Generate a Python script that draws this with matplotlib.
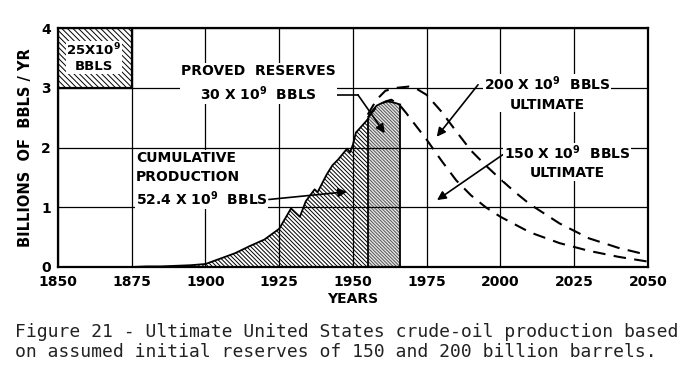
import matplotlib
matplotlib.use("Agg")
import matplotlib.pyplot as plt
from matplotlib.patches import Rectangle

# cumulative production, billions of bbls / yr
prod_years = [1875, 1880, 1885, 1890, 1895, 1900, 1905, 1910, 1915, 1920, 1925,
              1929, 1932, 1934, 1937, 1938, 1941, 1943, 1945, 1948, 1949, 1950,
              1951, 1953, 1955]
prod_vals = [0.0, 0.01, 0.01, 0.02, 0.03, 0.05, 0.14, 0.23, 0.35, 0.46, 0.64,
             0.98, 0.84, 1.10, 1.30, 1.25, 1.54, 1.70, 1.80, 1.98, 1.92, 2.05,
             2.25, 2.36, 2.47]

# proved reserves block
res_years = [1955, 1956, 1958, 1960, 1962, 1964, 1966]
res_vals = [2.47, 2.58, 2.70, 2.75, 2.77, 2.75, 2.72]

# projected curves
u200_years = [1955, 1958, 1961, 1965, 1969, 1972, 1975, 1980, 1985, 1990, 1995,
              2000, 2005, 2010, 2020, 2030, 2040, 2050]
u200_vals = [2.55, 2.80, 2.95, 3.00, 3.02, 2.97, 2.88, 2.60, 2.27, 1.95, 1.70,
             1.47, 1.25, 1.05, 0.73, 0.48, 0.32, 0.20]
u150_years = [1955, 1958, 1961, 1963, 1966, 1968, 1970, 1975, 1980, 1985, 1990,
              1995, 2000, 2010, 2020, 2030, 2040, 2050]
u150_vals = [2.50, 2.68, 2.77, 2.80, 2.70, 2.58, 2.45, 2.13, 1.78, 1.45, 1.20,
             1.00, 0.84, 0.58, 0.40, 0.27, 0.17, 0.09]

xticks = list(range(1850, 2051, 25))
yticks = [0, 1, 2, 3, 4]

plt.rcParams["font.family"] = "DejaVu Sans"
plt.rcParams["hatch.linewidth"] = 0.7

fig = plt.figure(figsize=(6.91, 3.70), dpi=100)
ax = fig.add_axes([0.0839, 0.2784, 0.8538, 0.6459])

ax.set_xlim(1850, 2050)
ax.set_ylim(0, 4)
ax.set_xticks(xticks)
ax.set_yticks(yticks)
ax.tick_params(length=0, labelsize=10)
ax.tick_params(axis="x", pad=6)
ax.tick_params(axis="y", pad=5)
for lab in ax.get_xticklabels() + ax.get_yticklabels():
    lab.set_fontweight("bold")
ax.grid(True, color="black", lw=0.9)
for sp in ax.spines.values():
    sp.set_linewidth(1.6)

box = dict(facecolor="white", edgecolor="none", pad=0.5)

# production
ax.fill_between(prod_years, prod_vals, 0, facecolor="white", edgecolor="black",
                hatch="\\" * 8, linewidth=0)
ax.plot(prod_years, prod_vals, color="black", lw=1.3)

# proved reserves
ax.fill_between(res_years, res_vals, 0, facecolor="#e6e6e6", edgecolor="#555555",
                hatch="\\" * 10, linewidth=0)
ax.plot(res_years, res_vals, color="black", lw=1.3)
ax.vlines([res_years[0], res_years[-1]], 0, [res_vals[0], res_vals[-1]],
          color="black", lw=1.3)

# ultimate curves
ax.plot(u200_years, u200_vals, color="black", lw=1.5, ls=(0, (6, 4)))
ax.plot(u150_years, u150_vals, color="black", lw=1.5, ls=(0, (6, 4)))

# inset box
ax.add_patch(Rectangle((1850, 3), 25, 1, facecolor="white", edgecolor="black",
                       hatch="\\" * 6, lw=1.6, zorder=2))
ax.text(1862.2, 3.51, "25X$\\mathbf{10^9}$\nBBLS", ha="center", va="center",
        fontsize=9.5, fontweight="bold", linespacing=1.25, bbox=box, zorder=4)

arrow = dict(arrowstyle="-|>", color="black", lw=1.2, mutation_scale=13,
             shrinkA=0, shrinkB=0)

ax.text(1918, 3.07, "PROVED  RESERVES\n30 X $\\mathbf{10^9}$  BBLS", ha="center",
        va="center", fontsize=10, fontweight="bold", linespacing=1.45,
        bbox=box, zorder=4)
ax.plot([1939.8, 1951.7], [2.88, 2.88], color="black", lw=1.2)
ax.annotate("", xy=(1960.8, 2.24), xytext=(1951.7, 2.88), arrowprops=arrow)

ax.text(1876.4, 1.46, "CUMULATIVE\nPRODUCTION\n52.4 X $\\mathbf{10^9}$  BBLS",
        ha="left", va="center", fontsize=10, fontweight="bold",
        linespacing=1.4, bbox=box, zorder=4)
ax.annotate("", xy=(1948, 1.26), xytext=(1921.5, 1.13), arrowprops=arrow)

ax.text(2015.9, 2.91, "200 X $\\mathbf{10^9}$  BBLS\nULTIMATE", ha="center",
        va="center", fontsize=10, fontweight="bold", linespacing=1.4,
        bbox=box, zorder=4)
ax.annotate("", xy=(1978.4, 2.18), xytext=(1992.4, 3.05), arrowprops=arrow)

ax.text(2022.7, 1.76, "150 X $\\mathbf{10^9}$  BBLS\nULTIMATE", ha="center",
        va="center", fontsize=10, fontweight="bold", linespacing=1.4,
        bbox=box, zorder=4)
ax.annotate("", xy=(1978.5, 1.12), xytext=(2000.8, 1.88), arrowprops=arrow)

ax.set_ylabel("BILLIONS  OF  BBLS / YR", fontsize=10.5, fontweight="bold",
              labelpad=6)
ax.set_xlabel("YEARS", fontsize=10, fontweight="bold", labelpad=2)

fig.text(0.021, 0.076, "Figure 21 - Ultimate United States crude-oil production based\n"
         "on assumed initial reserves of 150 and 200 billion barrels.",
         ha="left", va="center", fontsize=13.0, family="DejaVu Sans Mono",
         color="#222222", linespacing=1.15)

fig.savefig("out.png", dpi=100)
